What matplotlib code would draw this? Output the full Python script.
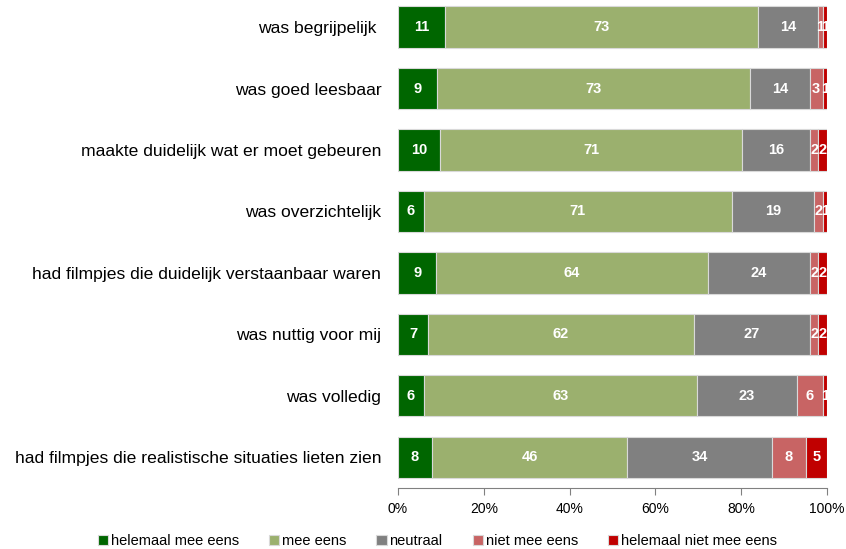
import matplotlib.pyplot as plt
import numpy as np

plt.rcParams['font.family'] = ['Liberation Sans', 'DejaVu Sans']

categories = [
    "was begrijpelijk ",
    "was goed leesbaar",
    "maakte duidelijk wat er moet gebeuren",
    "was overzichtelijk",
    "had filmpjes die duidelijk verstaanbaar waren",
    "was nuttig voor mij",
    "was volledig",
    "had filmpjes die realistische situaties lieten zien",
]
series_names = ["helemaal mee eens", "mee eens", "neutraal", "niet mee eens", "helemaal niet mee eens"]
helemaal_mee_eens = [11, 9, 10, 6, 9, 7, 6, 8]
mee_eens = [73, 73, 71, 71, 64, 62, 63, 46]
neutraal = [14, 14, 16, 19, 24, 27, 23, 34]
niet_mee_eens = [1, 3, 2, 2, 2, 2, 6, 8]
helemaal_niet_mee_eens = [1, 1, 2, 1, 2, 2, 1, 5]
colors = ["#006600", "#9BB06E", "#808080", "#C86464", "#C00000"]

data = np.array([helemaal_mee_eens, mee_eens, neutraal, niet_mee_eens, helemaal_niet_mee_eens], dtype=float)
shares = data / data.sum(axis=0) * 100

fig = plt.figure(figsize=(8.46, 5.49), dpi=100)
ax = fig.add_axes([0.4704, 0.111, 0.5071, 0.889])

y = np.arange(len(categories))
left = np.zeros(len(categories))
for i, name in enumerate(series_names):
    ax.barh(y, shares[i], left=left, height=0.67, color=colors[i],
            edgecolor="#D9D9D9", linewidth=0.8, label=name)
    for j in range(len(categories)):
        ax.text(left[j] + shares[i][j] / 2, y[j], str(int(data[i][j])),
                ha="center", va="center", color="white", fontsize=10.5, fontweight="bold")
    left += shares[i]

ax.set_xlim(0, 100)
ax.set_ylim(7.5, -0.44)
ax.set_yticks(y)
ax.set_yticklabels(categories, fontsize=12.6)
ax.tick_params(axis="y", length=0, pad=12)
ax.set_xticks([0, 20, 40, 60, 80, 100])
ax.set_xticklabels(["0%", "20%", "40%", "60%", "80%", "100%"], fontsize=10)
ax.tick_params(axis="x", length=5, color="#808080", pad=5)
for s in ["top", "right", "left"]:
    ax.spines[s].set_visible(False)
ax.spines["bottom"].set_color("#808080")

fig.legend(loc="center", bbox_to_anchor=(0.517, 0.014), ncol=5, frameon=False,
           fontsize=10.5, handlelength=0.7, handleheight=0.7, handletextpad=0.2,
           columnspacing=2.05)

fig.savefig("out.png", dpi=100)
